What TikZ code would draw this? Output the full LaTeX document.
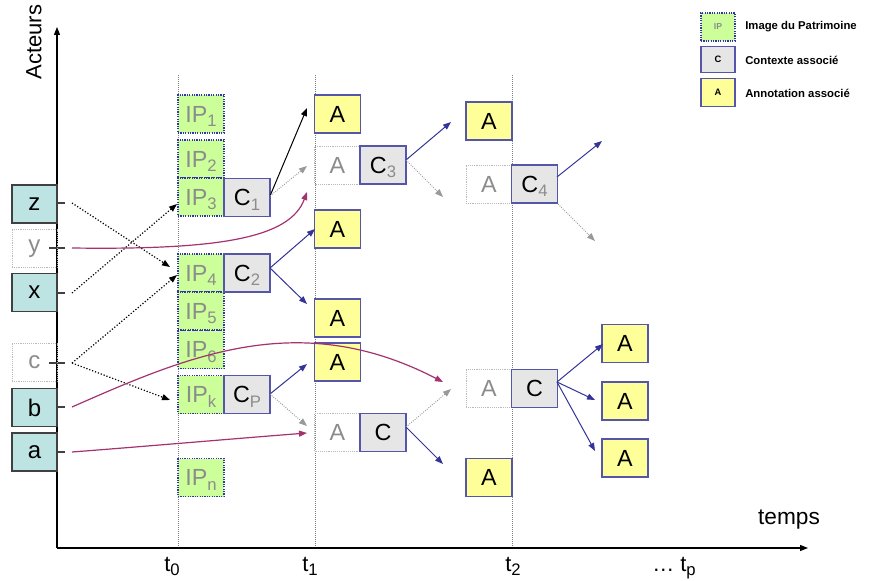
\documentclass[tikz,border=0pt]{standalone}
\usepackage{fontspec}
\setmainfont{Liberation Sans}
\usetikzlibrary{arrows.meta}
\definecolor{ipgreen}{HTML}{CCFF99}
\definecolor{ipblue}{HTML}{3333AA}
\definecolor{cgray}{HTML}{E6E6E6}
\definecolor{bblue}{HTML}{5555AA}
\definecolor{ayellow}{HTML}{FFFF99}
\definecolor{actteal}{HTML}{BDE3E3}
\definecolor{txtgray}{HTML}{8C8C8C}
\definecolor{redcurve}{HTML}{A3326E}
\definecolor{arblue}{HTML}{333399}
\definecolor{dotgray}{HTML}{999999}
\newcommand\ssub[1]{\smash{\raisebox{-3.6pt}{\fontsize{12.5}{12.5}\selectfont #1}}}
\newcommand\gsub[1]{\textcolor{txtgray}{\ssub{#1}}}
\begin{document}
\begin{tikzpicture}[x=0.75pt,y=-0.75pt,
  box/.style={rectangle, minimum width=34.5pt, minimum height=28.5pt, inner sep=0pt, font=\fontsize{17.5}{17.5}\selectfont},
  ipbox/.style={box, fill=ipgreen, draw=ipblue, line width=0.9pt, dash pattern=on 0.9pt off 0.9pt, text=txtgray},
  cbox/.style={box, fill=cgray, draw=bblue, line width=0.8pt},
  abox/.style={box, fill=ayellow, draw=bblue, line width=0.8pt},
  fbox/.style={box, draw=gray!55, line width=0.5pt, dash pattern=on 0.7pt off 0.7pt, text=txtgray},
  actor/.style={box, minimum width=33.75pt, fill=actteal, draw=black!75, line width=0.8pt, font=\fontsize{18}{18}\selectfont},
  factor/.style={box, minimum width=33.75pt, draw=gray!55, line width=0.5pt, dash pattern=on 0.7pt off 0.7pt, text=txtgray, font=\fontsize{18}{18}\selectfont},
  tipped/.style={-{Triangle[length=6pt,width=4.5pt]}},
  blkdot/.style={tipped, black, line width=0.9pt, dash pattern=on 0.9pt off 1.4pt},
  graydot/.style={tipped, dotgray, line width=0.7pt, dash pattern=on 0.7pt off 1pt},
  bluear/.style={tipped, arblue, line width=0.75pt},
  blackar/.style={tipped, black, line width=0.75pt},
  redar/.style={tipped, redcurve, line width=0.9pt},
  vline/.style={gray, line width=0.5pt, dash pattern=on 0.6pt off 0.9pt},
  axis/.style={-{Triangle[length=6pt,width=4.5pt]}, black, line width=0.8pt},
  lbl/.style={font=\fontsize{16.5}{16.5}\selectfont, inner sep=0pt},
  legtxt/.style={anchor=west, font=\bfseries\fontsize{8.5}{9}\selectfont, inner sep=0pt}
]
\useasboundingbox (0,0) rectangle (877,581);

% time lines
\coordinate (v0t) at (178,75); \coordinate (v0b) at (178,548);
\coordinate (v1t) at (315,75); \coordinate (v1b) at (315,548);
\coordinate (v2t) at (512,75); \coordinate (v2b) at (512,548);
\draw[vline] (v0t) -- (v0b);
\draw[vline] (v1t) -- (v1b);
\draw[vline] (v2t) -- (v2b);

% axes
\coordinate (orig) at (57,548);
\coordinate (ytop) at (57,27);
\coordinate (xend) at (808,548);
\draw[axis] (orig) -- (ytop);
\draw[axis] (orig) -- (xend);
\node[lbl, rotate=90] (acteurs) at (34,42) {Acteurs};
\node[lbl, font=\fontsize{17}{17}\selectfont] (temps) at (789,520) {temps};
\node[lbl] (t0) at (172,564) {t\ssub{0}};
\node[lbl] (t1) at (310,564) {t\ssub{1}};
\node[lbl] (t2) at (513,564) {t\ssub{2}};
\node[lbl] (tp) at (674,564) {\dots\ t\ssub{p}};

% ticks
\foreach \yy/\nm in {203/z,248/y,293/x,363/c,407/b,452/a}{
  \coordinate (tka\nm) at (49,\yy); \coordinate (tkb\nm) at (65,\yy);
  \draw[black!75, line width=0.8pt] (tka\nm) -- (tkb\nm);
}

% actors
\node[actor] (actz) at (34.5,204) {z};
\node[factor] (acty) at (34.5,248.5) {y};
\node[actor] (actx) at (34.5,292.5) {x};
\node[factor] (actc) at (34.5,362.5) {c};
\node[actor] (actb) at (34.5,407.5) {b};
\node[actor] (acta) at (34.5,452) {a};

% IP column
\node[ipbox] (ip1) at (201,114) {IP\ssub{1}};
\node[ipbox] (ip2) at (201,159) {IP\ssub{2}};
\node[ipbox] (ip3) at (201,197) {IP\ssub{3}};
\node[ipbox] (ip4) at (201,273) {IP\ssub{4}};
\node[ipbox] (ip5) at (201,311) {IP\ssub{5}};
\node[ipbox] (ip6) at (201,349.5) {IP\ssub{6}};
\node[ipbox] (ipk) at (201,394.5) {IP\ssub{k}};
\node[ipbox] (ipn) at (201,477.5) {IP\ssub{n}};
\node[cbox] (c1) at (247,197.5) {C\gsub{1}};
\node[cbox] (c2) at (247,273) {C\gsub{2}};
\node[cbox] (cp) at (247,394.5) {C\gsub{P}};

% t1 column
\node[abox] (a1) at (337.5,114) {A};
\node[fbox] (fa1) at (337.5,165) {A};
\node[cbox] (c3) at (383,165) {C\gsub{3}};
\node[abox] (a2) at (337.5,229) {A};
\node[abox] (a3) at (337.5,318) {A};
\node[abox] (a4) at (337.5,362) {A};
\node[fbox] (fa2) at (337.5,432.5) {A};
\node[cbox] (cb) at (383,432.5) {C};

% t2 column
\node[abox] (a5) at (489,121) {A};
\node[fbox] (fa3) at (489,184) {A};
\node[cbox] (c4) at (534.5,184) {C\gsub{4}};
\node[fbox] (fa4) at (489,388.5) {A};
\node[cbox] (cc) at (534.5,388.5) {C};
\node[abox] (a6) at (489,477.5) {A};

% right column
\node[abox] (a7) at (625,343.5) {A};
\node[abox] (a8) at (625,401) {A};
\node[abox] (a9) at (625,458) {A};

% legend
\node[ipbox, minimum width=25.5pt, minimum height=21pt, font=\bfseries\fontsize{6.5}{7}\selectfont] (lip) at (718,27) {IP};
\node[cbox, minimum width=25.5pt, minimum height=20pt, font=\bfseries\fontsize{7}{7}\selectfont] (lc) at (718,59.5) {C};
\node[abox, minimum width=25.5pt, minimum height=21pt, font=\bfseries\fontsize{7}{7}\selectfont] (la) at (718,92.5) {A};
\node[legtxt] (lipt) at (745,27) {Image du Patrimoine};
\node[legtxt] (lct) at (745,60) {Contexte associé};
\node[legtxt] (lat) at (745,93) {Annotation associé};

% connector start points from actors
\coordinate (sz) at (72,203);
\coordinate (sy) at (72,248);
\coordinate (sx) at (72,293);
\coordinate (sc) at (72,363);
\coordinate (sb) at (72,407);
\coordinate (sa) at (72,452);
% free ends
\coordinate (e4) at (170,267);
\coordinate (e3) at (177,204);
\coordinate (e4b) at (177,275);
\coordinate (ek) at (170,400);
\coordinate (ey) at (307,192);
\coordinate (eb) at (443,382);
\coordinate (ea) at (307,433);

\draw[blkdot] (sz) -- (e4);
\draw[blkdot] (sx) -- (e3);
\draw[blkdot] (sc) -- (e4b);
\draw[blkdot] (sc) -- (ek);

\draw[redar] (sy) .. controls (220,250) and (290,238) .. (ey);
\draw[redar] (sb) .. controls (190,355) and (300,308) .. (eb);
\draw[redar] (sa) .. controls (150,446) and (230,439) .. (ea);

% from C1, C2, CP
\coordinate (c1s) at (270,196);
\coordinate (e11) at (307,108);
\coordinate (e12) at (307,166);
\draw[blackar] (c1s) -- (e11);
\draw[graydot] (c1s) -- (e12);
\coordinate (c2s) at (270,268);
\coordinate (e21) at (315,229);
\coordinate (e22) at (307,304);
\draw[bluear] (c2s) -- (e21);
\draw[bluear] (c2s) -- (e22);
\coordinate (cps) at (270,394);
\coordinate (ep1) at (307,364);
\coordinate (ep2) at (307,426);
\draw[bluear] (cps) -- (ep1);
\draw[graydot] (cps) -- (ep2);

% from C3, Cb
\coordinate (c3s) at (406,160);
\coordinate (e31) at (451,122);
\coordinate (e32) at (443,197);
\draw[bluear] (c3s) -- (e31);
\draw[graydot] (c3s) -- (e32);
\coordinate (cbs) at (406,427);
\coordinate (eb1) at (451,389);
\coordinate (eb2) at (443,464);
\draw[graydot] (cbs) -- (eb1);
\draw[bluear] (cbs) -- (eb2);

% from C4, Cc
\coordinate (c4s) at (557,177);
\coordinate (c4s2) at (558,204);
\coordinate (e41) at (602,141);
\coordinate (e42) at (595,241);
\draw[bluear] (c4s) -- (e41);
\draw[graydot] (c4s2) -- (e42);
\coordinate (ccs) at (557,382);
\coordinate (ec1) at (603,344);
\coordinate (ec2) at (595,400);
\coordinate (ec3) at (595,451);
\draw[bluear] (ccs) -- (ec1);
\draw[bluear] (ccs) -- (ec2);
\draw[bluear] (ccs) -- (ec3);
\end{tikzpicture}
\end{document}
